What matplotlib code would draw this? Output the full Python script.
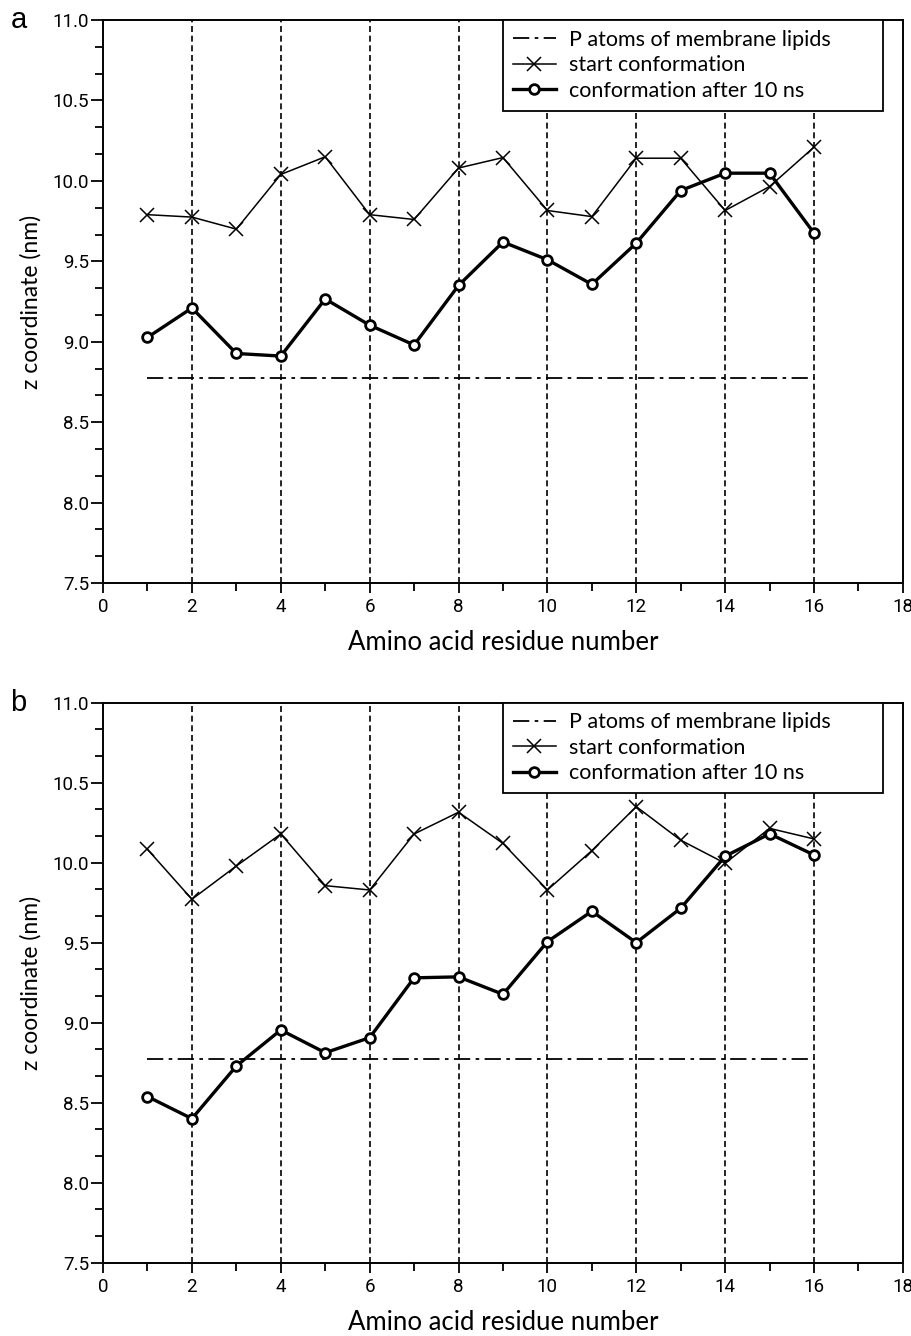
import matplotlib
matplotlib.use("Agg")
import matplotlib.pyplot as plt
from matplotlib.ticker import MultipleLocator, AutoMinorLocator

# residue numbers
residues = list(range(1, 17))

# panel a
start_a = [9.79, 9.775, 9.70, 10.04, 10.15, 9.79, 9.76, 10.08,
           10.145, 9.816, 9.778, 10.141, 10.141, 9.816, 9.965, 10.21]
after_a = [9.027, 9.21, 8.927, 8.911, 9.266, 9.103, 8.98, 9.35,
           9.62, 9.51, 9.357, 9.613, 9.94, 10.048, 10.048, 9.675]

# panel b
start_b = [10.083, 9.771, 9.979, 10.179, 9.856, 9.829, 10.179, 10.315,
           10.12, 9.829, 10.075, 10.35, 10.14, 9.996, 10.214, 10.148]
after_b = [8.538, 8.40, 8.729, 8.954, 8.812, 8.906, 9.28, 9.286,
           9.177, 9.506, 9.696, 9.50, 9.715, 10.04, 10.18, 10.048]

p_level = 8.772          # P atoms of membrane lipids
p_range = [1, 16]
grid_x = [2, 4, 6, 8, 10, 12, 14, 16]

label_font = "Lato"
tick_font = "Roboto"


def draw_panel(ax, start, after, letter):
    for gx in grid_x:
        ax.axvline(gx, color="black", lw=1.2, ls=(0, (3.6, 2.2)), zorder=1)
    ax.plot(p_range, [p_level, p_level], color="black", lw=1.3,
            ls=(0, (9, 3, 2, 3)), label="P atoms of membrane lipids")
    ax.plot(residues, start, color="black", lw=1.1, marker="x",
            markersize=10, markeredgewidth=1.1, label="start conformation")
    ax.plot(residues, after, color="black", lw=2.4, marker="o",
            markersize=7, markerfacecolor="white", markeredgewidth=2,
            label="conformation after 10 ns")

    ax.set_xlim(0, 18)
    ax.set_ylim(7.5, 11.0)
    ax.xaxis.set_major_locator(MultipleLocator(2))
    ax.xaxis.set_minor_locator(MultipleLocator(1))
    ax.yaxis.set_major_locator(MultipleLocator(0.5))
    ax.yaxis.set_minor_locator(AutoMinorLocator(3))
    ax.yaxis.set_major_formatter(plt.FormatStrFormatter("%.1f"))
    ax.tick_params(which="both", direction="out", width=1.3,
                   labelsize=13.5, labelfontfamily=tick_font)
    ax.tick_params(axis="x", which="major", length=7.5, pad=3.5)
    ax.tick_params(axis="y", which="major", length=8.5, pad=1.5)
    ax.tick_params(which="minor", length=5.5)
    for sp in ax.spines.values():
        sp.set_linewidth(1.4)

    ax.set_xlabel("Amino acid residue number", fontsize=18.5,
                  family=label_font, labelpad=10)
    ax.set_ylabel("z coordinate (nm)", fontsize=16.5, family=label_font,
                  labelpad=8)

    leg = ax.legend(loc="upper right",
                    bbox_to_anchor=(0.5, 0.0, 0.4747, 1.0),
                    mode="expand", borderaxespad=0, fancybox=False,
                    framealpha=1, edgecolor="black", handlelength=2.0,
                    handletextpad=0.6, labelspacing=0.26, borderpad=0.45,
                    prop={"family": label_font, "size": 15.5})
    leg.get_frame().set_linewidth(1.3)

    ax.text(-0.116, 1.0, letter, transform=ax.transAxes, fontsize=21,
            family="Liberation Sans", va="center", ha="left")


fig = plt.figure(figsize=(9.12, 13.36), dpi=100)
ax_a = fig.add_axes([0.113, 0.5636, 0.877, 0.4214])
ax_b = fig.add_axes([0.113, 0.0549, 0.877, 0.4192])

draw_panel(ax_a, start_a, after_a, "a")
draw_panel(ax_b, start_b, after_b, "b")

fig.savefig("out.png", dpi=100)
